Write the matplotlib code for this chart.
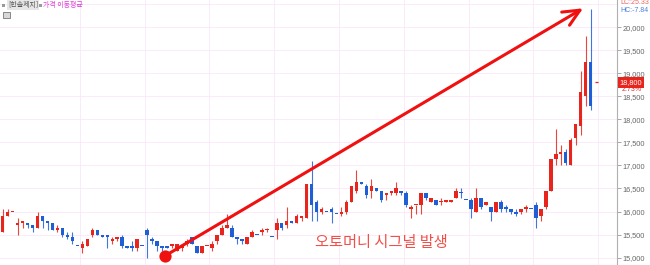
import numpy as np
import matplotlib
matplotlib.use("Agg")
import matplotlib.pyplot as plt
from matplotlib.patches import Rectangle

plt.rcParams['font.family'] = ['Liberation Sans', 'Noto Sans CJK KR', 'DejaVu Sans']

# daily candles (open, high, low, close)
opens = [15550, 15900, 16000, 15700, 15750, 15750, 15700, 15650, 15900, 15800,
         15750, 15600, 15650, 15500, 15450, 15250, 15200, 15250, 15500, 15600,
         15500, 15500, 15350, 15400, 15450, 15250, 15250, 15200, 15250, 15600,
         15400, 15350, 15250, 15250, 15250, 15150, 15200, 15300, 15450, 15250,
         15100, 15250, 15200, 15350, 15500, 15650, 15650, 15450, 15400, 15300,
         15450, 15500, 15550, 15600, 15450, 15600, 15750, 15700, 15800, 15750,
         15850, 15850, 16600, 16200, 16000, 16000, 16050, 15950, 15950, 16000,
         16200, 16450, 16650, 16550, 16450, 16500, 16450, 16350, 16400, 16400,
         16450, 16400, 16050, 16150, 16150, 16400, 16200, 16250, 16200, 16200,
         16200, 16300, 16400, 16250, 16250, 16000, 16300, 16150, 16100, 16000,
         16200, 16100, 16050, 16000, 16000, 16050, 16050, 16150, 15900, 16100,
         16450, 17150, 17250, 17300, 17000, 17600, 17850, 18500, 19250]
highs = [16050, 16050, 16000, 15850, 15800, 15750, 15700, 16000, 15900, 15800,
         15750, 15700, 15650, 15550, 15550, 15250, 15350, 15400, 15650, 15600,
         15500, 15500, 15450, 15450, 15500, 15250, 15350, 15400, 15250, 15650,
         15450, 15350, 15250, 15250, 15300, 15300, 15300, 15400, 15450, 15250,
         15250, 15250, 15350, 15500, 15700, 15950, 15700, 15450, 15400, 15450,
         15600, 15500, 15650, 15650, 15450, 15850, 15750, 16100, 15800, 15950,
         15900, 16600, 17100, 16250, 16100, 16000, 16100, 15950, 16100, 16250,
         16550, 16900, 16650, 16600, 16700, 16500, 16450, 16400, 16450, 16650,
         16450, 16450, 16150, 16150, 16400, 16400, 16300, 16250, 16300, 16250,
         16250, 16500, 16500, 16250, 16300, 16500, 16300, 16200, 16100, 16200,
         16250, 16150, 16050, 16050, 16050, 16150, 16050, 16200, 16050, 16450,
         17150, 17800, 17450, 17350, 17600, 17900, 19050, 19800, 20400]
lows = [15550, 15900, 16000, 15500, 15650, 15650, 15550, 15650, 15650, 15600,
        15600, 15550, 15450, 15400, 15300, 15250, 15100, 15250, 15450, 15500,
        15450, 15200, 15300, 15350, 15200, 15200, 15150, 15150, 15250, 15000,
        15300, 15150, 15150, 15200, 15200, 15150, 15150, 15250, 15300, 15100,
        15100, 15250, 15150, 15300, 15500, 15650, 15450, 15300, 15300, 15300,
        15450, 15500, 15500, 15550, 15450, 15400, 15600, 15650, 15750, 15750,
        15800, 15850, 15800, 15800, 15950, 16000, 15750, 15950, 15900, 15950,
        16200, 16400, 16600, 16300, 16300, 16450, 16200, 16250, 16350, 16350,
        16350, 16100, 15850, 15950, 15950, 16250, 16200, 16150, 16150, 16200,
        16200, 16300, 16300, 16250, 15850, 16000, 16050, 16150, 15800, 16000,
        16000, 16000, 15950, 15900, 15950, 16000, 16050, 15650, 15800, 16050,
        16450, 17000, 17000, 17000, 17000, 17450, 17650, 18300, 18200]
closes = [15900, 16000, 16000, 15750, 15800, 15700, 15650, 15900, 15800, 15750,
          15600, 15650, 15500, 15450, 15350, 15250, 15300, 15400, 15600, 15500,
          15450, 15450, 15400, 15450, 15250, 15200, 15200, 15400, 15250, 15500,
          15350, 15250, 15200, 15200, 15300, 15300, 15250, 15350, 15300, 15100,
          15250, 15250, 15300, 15500, 15650, 15700, 15450, 15400, 15350, 15450,
          15550, 15500, 15600, 15600, 15450, 15750, 15650, 15800, 15750, 15900,
          15900, 16600, 16150, 16000, 16050, 16000, 16000, 15950, 16000, 16200,
          16550, 16650, 16600, 16350, 16550, 16450, 16250, 16400, 16450, 16500,
          16400, 16150, 16100, 16150, 16400, 16300, 16300, 16150, 16200, 16250,
          16250, 16450, 16400, 16250, 16050, 16300, 16100, 16200, 16000, 16200,
          16050, 16050, 16000, 15950, 16050, 16100, 16050, 15850, 16050, 16450,
          17150, 17250, 17300, 17050, 17550, 17900, 18600, 19250, 18300]

current_price = 18800
change_pct = "2.73%"
stock_name = "[한솔제지]"
signal_text = "오토머니 시그널 발생"
signal_start = (32.6, 15040)
signal_end = (116.5, 20410)

RED = '#e8251c'
BLUE = '#1f5fd6'

o = np.array(opens)
h = np.array(highs)
l = np.array(lows)
c = np.array(closes)
n = len(o)
x = np.arange(n)
prev = np.concatenate([[c[0]], c[:-1]])
up = (c > o) | ((c == o) & (c >= prev))
cols = np.where(up, RED, BLUE)

fig = plt.figure(figsize=(6.5, 2.65), dpi=100)
ax = fig.add_axes([0, 0, 617 / 650, 1])

# faint pink grid
for lvl in range(15000, 20501, 500):
    ax.axhline(lvl, color='#fbe6f8', lw=0.6, zorder=0)
for gx in np.arange(15.5, n + 2, 13):
    ax.axvline(gx, color='#fbe6f8', lw=0.6, zorder=0)

ax.vlines(x, l, h, colors=cols, lw=0.8, alpha=0.85, zorder=2)
ax.bar(x, np.maximum(np.abs(c - o), 22), bottom=np.minimum(o, c), width=0.72,
       color=cols, lw=0, zorder=3)
ax.hlines(current_price, n - 0.1, n + 0.4, color=RED, lw=0.9)

# signal arrow
ax.plot(*signal_start, 'o', color='#f01010', ms=8.8, mec='none', zorder=5)
ax.annotate('', xy=signal_end, xytext=signal_start,
            arrowprops=dict(arrowstyle='->,head_length=1.2,head_width=0.55',
                            color='#f01010', lw=2.2, shrinkA=0, shrinkB=0),
            zorder=5)
ax.text(76, 15330, signal_text, color='#f0504a', fontsize=11,
        family=['Noto Sans CJK KR'], ha='center', va='center')

ax.set_xlim(-0.54, 123.3)
ax.set_ylim(14840, 20590)
for s in ['top', 'left', 'bottom']:
    ax.spines[s].set_visible(False)
ax.spines['right'].set_color('#b0b0b0')
ax.spines['right'].set_linewidth(0.8)
ax.set_xticks([])
ax.yaxis.tick_right()
ax.set_yticks(range(15000, 20001, 500))
ax.set_yticklabels([f'{v:,}' for v in range(15000, 20001, 500)])
ax.tick_params(axis='y', length=3, width=0.6, color='#999999', labelsize=5.3,
               labelcolor='#666666', pad=1)

# current price tag
ax.text(1.004, current_price, f'{current_price:,}', transform=ax.get_yaxis_transform(),
        color='white', fontsize=5.3, va='center', ha='left', clip_on=False, zorder=6,
        bbox=dict(boxstyle='square,pad=0.25', fc=RED, ec='none'))
fig.text(622 / 650, 1 - 90 / 265, change_pct, color=RED, fontsize=5, va='center')
fig.text(620 / 650, 1 - 3 / 265, 'LC:25.33', color='#f06060', fontsize=5, va='center')
fig.text(620 / 650, 1 - 10 / 265, 'HC:-7.84', color='#4a7ee0', fontsize=5, va='center')

# top-left legend
fig.patches.append(Rectangle((2 / 650, 1 - 7 / 265), 3 / 650, 3 / 265,
                             transform=fig.transFigure, fc='#999999', ec='none'))
fig.text(8 / 650, 1 - 5 / 265, stock_name, color='#555555', fontsize=5,
         family=['Noto Sans CJK KR'], va='center',
         bbox=dict(boxstyle='square,pad=0.15', fc='#e6e6e6', ec='none'))
fig.patches.append(Rectangle((39 / 650, 1 - 7 / 265), 3 / 650, 3 / 265,
                             transform=fig.transFigure, fc='#999999', ec='none'))
fig.text(43 / 650, 1 - 5 / 265, '가격 이동평균', color='#e040d8', fontsize=5,
         family=['Noto Sans CJK KR'], va='center')
fig.patches.append(Rectangle((3 / 650, 1 - 18 / 265), 7 / 650, 6 / 265,
                             transform=fig.transFigure, fc='#d8d8d8', ec='#777777', lw=0.6))

fig.savefig('out.png', dpi=100)
